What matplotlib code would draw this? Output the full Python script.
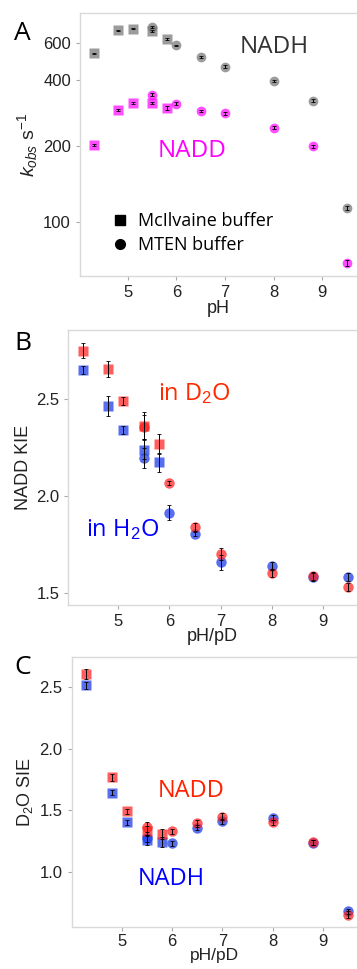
import numpy as np
import matplotlib
matplotlib.use("Agg")
import matplotlib.pyplot as plt
from matplotlib.lines import Line2D

plt.rcParams['font.family'] = ['Liberation Sans', 'DejaVu Sans']
plt.rcParams['mathtext.fontset'] = 'custom'
plt.rcParams['mathtext.rm'] = 'Liberation Sans'
plt.rcParams['mathtext.it'] = 'Liberation Sans:italic'

# pH values
ph_sq = [4.3, 4.8, 5.1, 5.5, 5.8]                  # McIlvaine buffer
ph_ci = [5.5, 6.0, 6.5, 7.0, 8.0, 8.8, 9.5]        # MTEN buffer

# panel A: kobs (s^-1)
nadh_sq = [536, 695, 708, 688, 630]
nadh_ci = [724, 587, 513, 462, 395, 318, 112]
nadd_sq = [202, 289, 310, 312, 296]
nadd_ci = [340, 309, 285, 279, 240, 199, 73.5]
nadh_sq_err = [4, 6, 6, 8, 6]
nadh_ci_err = [10, 5, 5, 8, 4, 5, 2]
nadd_sq_err = [2, 4, 3, 3, 6]
nadd_ci_err = [5, 4, 3, 5, 3, 3, 1.5]

# panel B: NADD KIE
kie_d2o_sq = [2.746, 2.652, 2.488, 2.36, 2.268]
kie_d2o_ci = [2.355, 2.066, 1.842, 1.702, 1.603, 1.591, 1.533]
kie_h2o_sq = [2.647, 2.461, 2.338, 2.238, 2.172]
kie_h2o_ci = [2.194, 1.915, 1.805, 1.659, 1.640, 1.584, 1.582]
kie_d2o_sq_err = [0.04, 0.04, 0.02, 0.07, 0.05]
kie_d2o_ci_err = [0.06, 0.01, 0.02, 0.03, 0.02, 0.02, 0.02]
kie_h2o_sq_err = [0.02, 0.05, 0.02, 0.05, 0.05]
kie_h2o_ci_err = [0.05, 0.04, 0.01, 0.04, 0.02, 0.02, 0.02]

# panel C: D2O SIE
sie_nadd_sq = [2.607, 1.765, 1.49, 1.33, 1.303]
sie_nadd_ci = [1.36, 1.327, 1.393, 1.447, 1.40, 1.239, 0.65]
sie_nadh_sq = [2.514, 1.64, 1.40, 1.257, 1.241]
sie_nadh_ci = [1.27, 1.228, 1.356, 1.407, 1.436, 1.236, 0.677]
sie_nadd_sq_err = [0.04, 0.03, 0.02, 0.04, 0.04]
sie_nadd_ci_err = [0.04, 0.02, 0.03, 0.03, 0.02, 0.02, 0.03]
sie_nadh_sq_err = [0.03, 0.02, 0.02, 0.04, 0.04]
sie_nadh_ci_err = [0.03, 0.02, 0.02, 0.02, 0.02, 0.02, 0.02]

RED = '#ff1a1a'
BLUE = '#1f3fe8'
GRAY = '#7a7a7a'
MAG = '#ff00ff'
ANNOT = ['Open Sans', 'DejaVu Sans']


def style_axes(ax):
    for s in ['left', 'top', 'bottom']:
        ax.spines[s].set_color('#d9d9d9')
        ax.spines[s].set_linewidth(1.0)
    ax.spines['right'].set_visible(False)
    ax.tick_params(axis='both', colors='#aaaaaa', length=3, width=0.8,
                   labelcolor='#222222', labelsize=12)


def series(ax, x, y, err, color, marker, ms, alpha=0.75):
    ax.plot(x, y, linestyle='none', marker=marker, ms=ms, color=color,
            alpha=alpha, mec='none', zorder=2)
    ax.errorbar(x, y, yerr=err, fmt='none', ecolor='black', elinewidth=0.7,
                capsize=1.2, capthick=0.6, zorder=3)


fig = plt.figure(figsize=(3.57, 9.69), dpi=100)

# ---- A ----
axA = fig.add_axes([0.224, 0.7152, 0.776, 0.2714])
c0 = 32.0
axA.set_yscale('function', functions=(lambda v: np.log10(np.clip(v - c0, 1e-6, None)),
                                      lambda t: 10 ** t + c0))
series(axA, ph_sq, nadh_sq, nadh_sq_err, GRAY, 's', 7.5)
series(axA, ph_ci, nadh_ci, nadh_ci_err, GRAY, 'o', 7)
series(axA, ph_sq, nadd_sq, nadd_sq_err, MAG, 's', 7.5, 0.7)
series(axA, ph_ci, nadd_ci, nadd_ci_err, MAG, 'o', 7, 0.7)
axA.set_xlim(4.02, 9.71)
axA.set_ylim(67.6, 847)
axA.set_yticks([100, 200, 400, 600])
axA.set_yticklabels(['100', '200', '400', '600'])
axA.yaxis.set_minor_locator(matplotlib.ticker.NullLocator())
axA.set_xticks([5, 6, 7, 8, 9])
style_axes(axA)
axA.set_xlabel('pH', fontsize=13, labelpad=0, color='#222222')
axA.set_ylabel(r'$k_{obs}\ \mathrm{s}^{-1}$', fontsize=14, labelpad=2, color='#222222')
axA.text(0.575, 0.87, 'NADH', transform=axA.transAxes, fontsize=17.5,
         color='#333333', family=ANNOT, va='center')
axA.text(0.28, 0.475, 'NADD', transform=axA.transAxes, fontsize=17.5,
         color=MAG, family=ANNOT, va='center')
handles = [Line2D([], [], ls='none', marker='s', ms=7, color='black'),
           Line2D([], [], ls='none', marker='o', ms=7, color='black')]
axA.legend(handles, ['McIlvaine buffer', 'MTEN buffer'], loc='center left',
           bbox_to_anchor=(0.112, 0.163), frameon=False, handlelength=1.0,
           handletextpad=0.5, borderpad=0, borderaxespad=0, labelspacing=0.35,
           prop={'family': ANNOT, 'size': 13})

# ---- B ----
axB = fig.add_axes([0.1913, 0.3756, 0.8087, 0.2838])
series(axB, ph_sq, kie_h2o_sq, kie_h2o_sq_err, BLUE, 's', 7.5)
series(axB, ph_ci, kie_h2o_ci, kie_h2o_ci_err, BLUE, 'o', 7.5)
series(axB, ph_sq, kie_d2o_sq, kie_d2o_sq_err, RED, 's', 7.5, 0.7)
series(axB, ph_ci, kie_d2o_ci, kie_d2o_ci_err, RED, 'o', 7.5, 0.7)
axB.set_xlim(4.02, 9.67)
axB.set_ylim(1.44, 2.852)
axB.set_yticks([1.5, 2.0, 2.5])
axB.set_xticks([5, 6, 7, 8, 9])
style_axes(axB)
axB.set_xlabel('pH/pD', fontsize=13, labelpad=-1, color='#222222')
axB.set_ylabel('NADD KIE', fontsize=13, labelpad=3, color='#222222')
axB.text(0.31, 0.77, r'in D$_2$O', transform=axB.transAxes, fontsize=17,
         color='#ff2a00', family=ANNOT, va='center')
axB.text(0.06, 0.275, r'in H$_2$O', transform=axB.transAxes, fontsize=17,
         color='#0000ff', family=ANNOT, va='center')

# ---- C ----
axC = fig.add_axes([0.2008, 0.043, 0.7992, 0.2787])
series(axC, ph_sq, sie_nadh_sq, sie_nadh_sq_err, BLUE, 's', 7.5)
series(axC, ph_ci, sie_nadh_ci, sie_nadh_ci_err, BLUE, 'o', 7.5)
series(axC, ph_sq, sie_nadd_sq, sie_nadd_sq_err, RED, 's', 7.5, 0.7)
series(axC, ph_ci, sie_nadd_ci, sie_nadd_ci_err, RED, 'o', 7.5, 0.7)
axC.set_xlim(4.01, 9.67)
axC.set_ylim(0.546, 2.743)
axC.set_yticks([1.0, 1.5, 2.0, 2.5])
axC.set_xticks([5, 6, 7, 8, 9])
style_axes(axC)
axC.tick_params(axis='x', pad=2)
axC.set_xlabel('pH/pD', fontsize=12.5, labelpad=-1, color='#222222')
axC.set_ylabel(r'D$_2$O SIE', fontsize=13, labelpad=3, color='#222222')
axC.text(0.30, 0.505, 'NADD', transform=axC.transAxes, fontsize=17,
         color='#ff2200', family=ANNOT, va='center')
axC.text(0.23, 0.18, 'NADH', transform=axC.transAxes, fontsize=17,
         color='#0000ff', family=ANNOT, va='center')

# panel letters
for lab, yy in [('A', 34), ('B', 343), ('C', 668)]:
    fig.text(14 / 357, 1 - yy / 969, lab, fontsize=19, family=ANNOT,
             color='black', va='center', ha='left')

fig.savefig('out.png', dpi=100)
